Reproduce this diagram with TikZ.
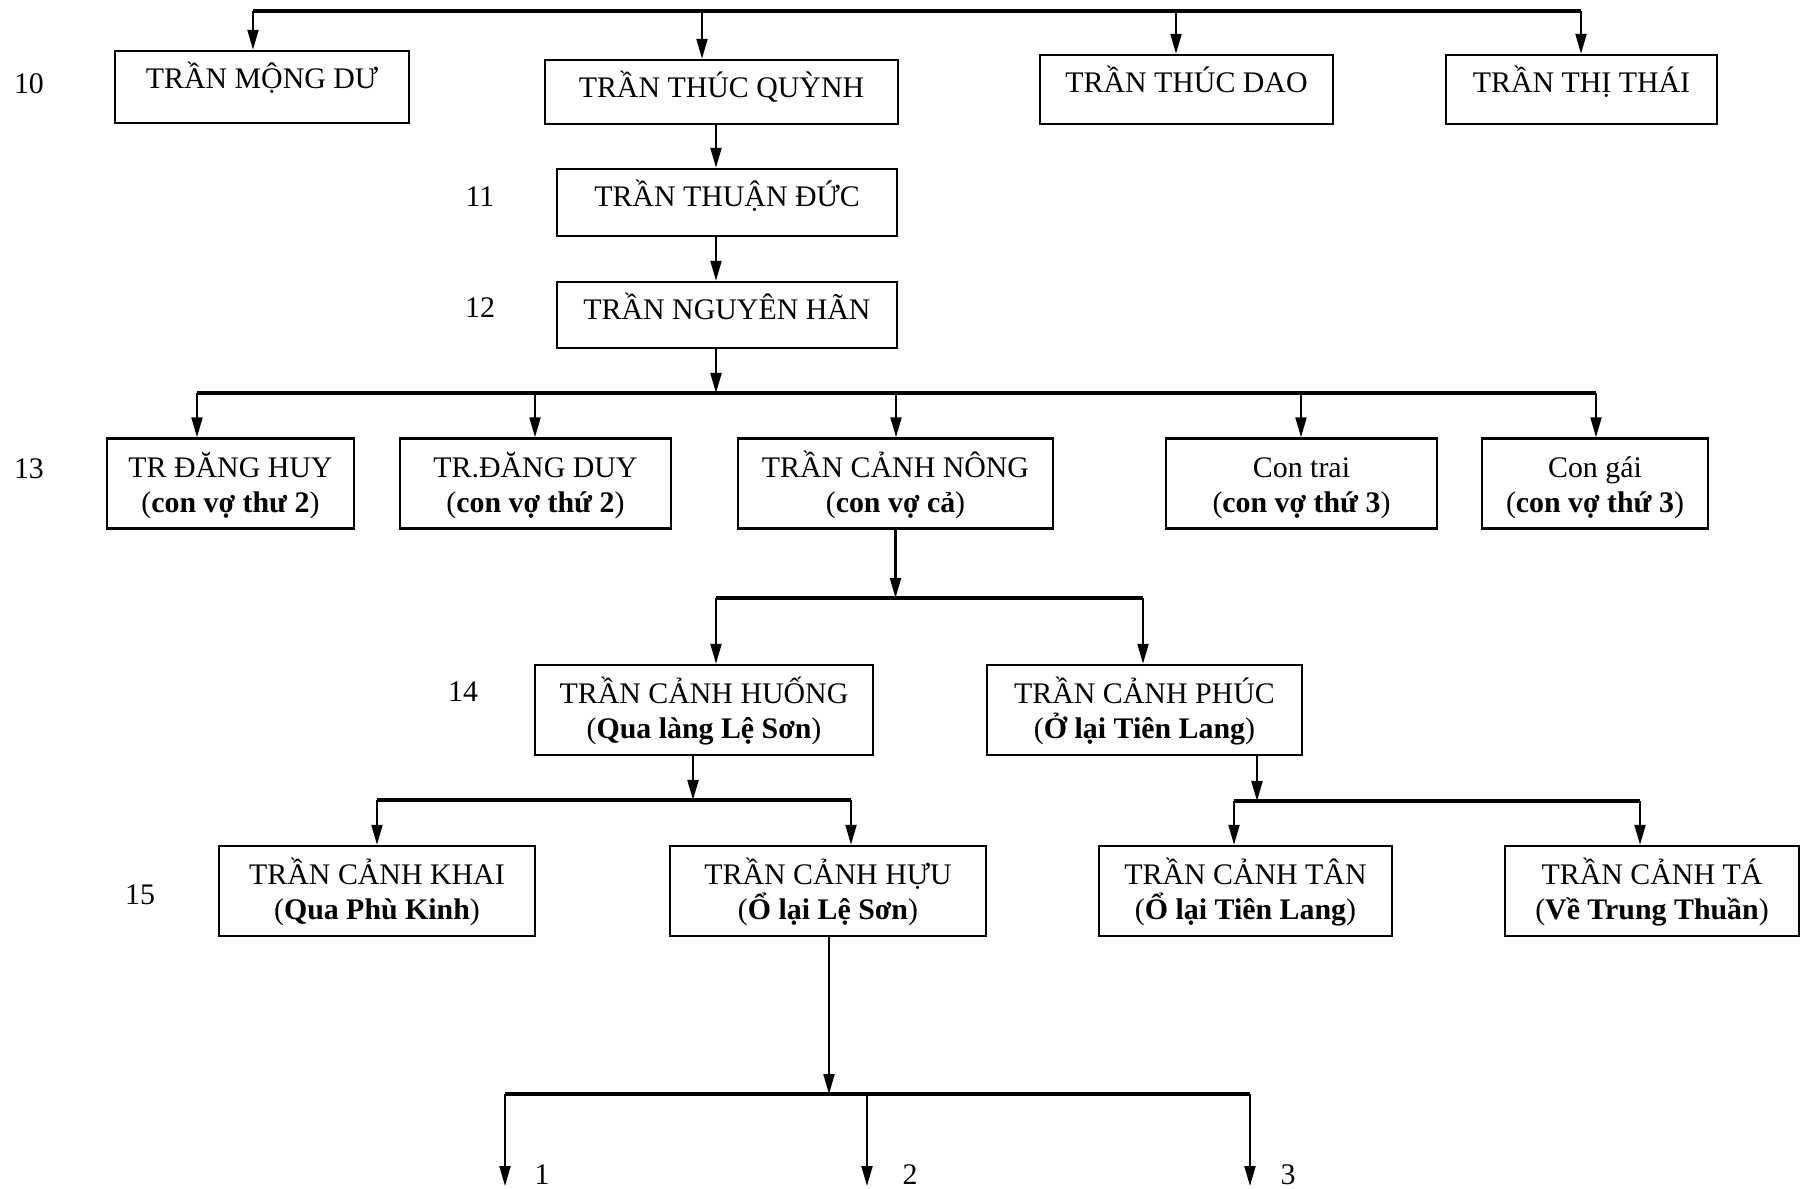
\documentclass[tikz,border=0pt]{standalone}
\usepackage{fontspec}
\setmainfont{Liberation Serif}
\usetikzlibrary{arrows.meta}
\newcommand{\topstrut}{\rule{0pt}{2.9mm}}

\begin{document}
\begin{tikzpicture}[x=0.1mm,y=-0.1mm,
    every node/.style={font=\fontsize{8.5pt}{10pt}\selectfont},
    person/.style={draw,line width=0.7pt,inner xsep=0pt,inner ysep=0pt,align=center},
    single/.style={person,text height=3.8mm},
    double/.style={person,minimum height=9mm},
    arr/.style={line width=0.6pt,-{Triangle[length=2mm,width=1.1mm]}},
    bus/.style={line width=0.9pt},
    gen/.style={anchor=base}]
    \useasboundingbox (0,0) rectangle (1802,1189);

    \node[gen] (g10) at (29, 94) {10};
    \node[gen] (g11) at (480, 207) {11};
    \node[gen] (g12) at (480, 318) {12};
    \node[gen] (g13) at (29, 479) {13};
    \node[gen] (g14) at (463, 702) {14};
    \node[gen] (g15) at (140, 905) {15};

    \node[single, minimum width=29.4mm, text depth=3.4mm] (mong) at (262, 87) {TRẦN MỘNG DƯ};
    \node[single, minimum width=35.3mm, text depth=2.6mm] (quynh) at (721.5, 92) {TRẦN THÚC QUỲNH};
    \node[single, minimum width=29.3mm, text depth=3.1mm] (dao) at (1186.5, 89.5) {TRẦN THÚC DAO};
    \node[single, minimum width=27.1mm, text depth=3.1mm] (thai) at (1581.5, 89.5) {TRẦN THỊ THÁI};

    \node[single, minimum width=34mm, text depth=2.9mm] (duc) at (727, 202.5) {TRẦN THUẬN ĐỨC};
    \node[single, minimum width=34mm, text depth=2.8mm] (han) at (727, 315) {TRẦN NGUYÊN HÃN};

    \node[double, minimum width=24.7mm] (huy) at (230.5, 483.5) {\topstrut TR ĐĂNG HUY\\(\textbf{con vợ thư 2})};
    \node[double, minimum width=27.1mm] (duy) at (535.5, 483.5) {\topstrut TR.ĐĂNG DUY\\(\textbf{con vợ thứ 2})};
    \node[double, minimum width=31.5mm] (nong) at (895.5, 483.5) {\topstrut TRẦN CẢNH NÔNG\\(\textbf{con vợ cả})};
    \node[double, minimum width=27.1mm] (trai) at (1301.5, 483.5) {\topstrut Con trai\\(\textbf{con vợ thứ 3})};
    \node[double, minimum width=22.6mm] (gai) at (1595, 483.5) {\topstrut Con gái\\(\textbf{con vợ thứ 3})};

    \node[double, minimum width=33.8mm] (huong) at (704, 710) {\topstrut TRẦN CẢNH HUỐNG\\(\textbf{Qua làng Lệ Sơn})};
    \node[double, minimum width=31.5mm] (phuc) at (1144.5, 710) {\topstrut TRẦN CẢNH PHÚC\\(\textbf{Ở lại Tiên Lang})};

    \node[double, minimum width=31.6mm] (khai) at (377, 891) {\topstrut TRẦN CẢNH KHAI\\(\textbf{Qua Phù Kinh})};
    \node[double, minimum width=31.6mm] (huu) at (828, 891) {\topstrut TRẦN CẢNH HỰU\\(\textbf{Ổ lại Lệ Sơn})};
    \node[double, minimum width=29.3mm] (tan) at (1245.5, 891) {\topstrut TRẦN CẢNH TÂN\\(\textbf{Ổ lại Tiên Lang})};
    \node[double, minimum width=29.4mm] (ta) at (1652, 891) {\topstrut TRẦN CẢNH TÁ\\(\textbf{Về Trung Thuần})};

    \node[gen] (n1) at (542, 1184) {1};
    \node[gen] (n2) at (910, 1184) {2};
    \node[gen] (n3) at (1288, 1184) {3};

    \coordinate (t1) at (253, 11);
    \coordinate (t2) at (702, 11);
    \coordinate (t3) at (1176, 11);
    \coordinate (t4) at (1581, 11);
    \draw[bus] (t1) -- (t4);
    \draw[arr] (t1) -- (t1 |- mong.north);
    \draw[arr] (t2) -- (t2 |- quynh.north);
    \draw[arr] (t3) -- (t3 |- dao.north);
    \draw[arr] (t4) -- (t4 |- thai.north);

    \coordinate (spine) at (716, 393);
    \draw[arr] (quynh.south -| spine) -- (duc.north -| spine);
    \draw[arr] (duc.south -| spine) -- (han.north -| spine);
    \draw[arr] (han.south -| spine) -- (spine);

    \coordinate (s1) at (197, 393);
    \coordinate (s2) at (535, 393);
    \coordinate (s3) at (896, 393);
    \coordinate (s4) at (1301, 393);
    \coordinate (s5) at (1596, 393);
    \draw[bus] (s1) -- (s5);
    \draw[arr] (s1) -- (s1 |- huy.north);
    \draw[arr] (s2) -- (s2 |- duy.north);
    \draw[arr] (s3) -- (s3 |- nong.north);
    \draw[arr] (s4) -- (s4 |- trai.north);
    \draw[arr] (s5) -- (s5 |- gai.north);

    \coordinate (u1) at (716, 598);
    \coordinate (u2) at (1143, 598);
    \draw[arr] (nong.south) -- (nong.south |- u1);
    \draw[bus] (u1) -- (u2);
    \draw[arr] (u1) -- (u1 |- huong.north);
    \draw[arr] (u2) -- (u2 |- phuc.north);

    \coordinate (v0) at (693, 800);
    \coordinate (v1) at (377, 800);
    \coordinate (v2) at (851, 800);
    \draw[arr] (huong.south -| v0) -- (v0);
    \draw[bus] (v1) -- (v2);
    \draw[arr] (v1) -- (v1 |- khai.north);
    \draw[arr] (v2) -- (v2 |- huu.north);

    \coordinate (w0) at (1257, 801);
    \coordinate (w1) at (1234, 801);
    \coordinate (w2) at (1640, 801);
    \draw[arr] (phuc.south -| w0) -- (w0);
    \draw[bus] (w1) -- (w2);
    \draw[arr] (w1) -- (w1 |- tan.north);
    \draw[arr] (w2) -- (w2 |- ta.north);

    \coordinate (z0) at (829, 1094);
    \coordinate (z1) at (505, 1094);
    \coordinate (z2) at (867, 1094);
    \coordinate (z3) at (1250, 1094);
    \coordinate (e1) at (505, 1186);
    \coordinate (e2) at (867, 1186);
    \coordinate (e3) at (1250, 1186);
    \draw[arr] (huu.south -| z0) -- (z0);
    \draw[bus] (z1) -- (z3);
    \draw[arr] (z1) -- (e1);
    \draw[arr] (z2) -- (e2);
    \draw[arr] (z3) -- (e3);

\end{tikzpicture}
\end{document}
